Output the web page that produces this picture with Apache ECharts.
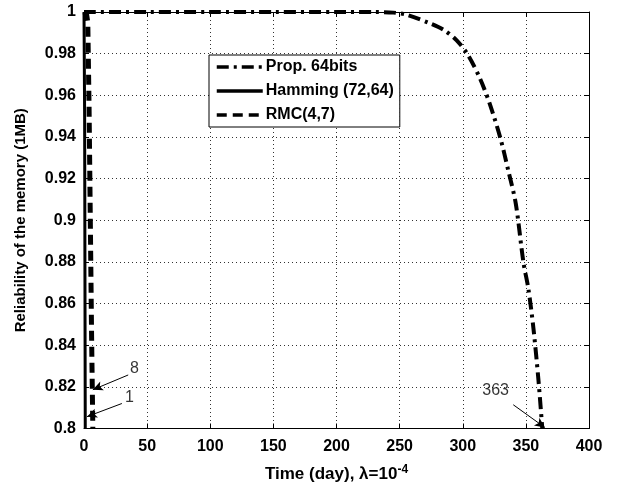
<!DOCTYPE html>
<html>
<head>
<meta charset="utf-8">
<script src="https://cdn.jsdelivr.net/npm/echarts@6/dist/echarts.min.js"></script>
<style>
  html, body { margin: 0; padding: 0; background: #fff; }
  #chart { width: 620px; height: 488px; }
</style>
</head>
<body>
<div id="chart"></div>
<script>
// reliability vs time
const propDays = [0, 50, 100, 150, 200, 230, 245, 256, 273, 285, 295, 304, 314, 322, 330, 336, 342, 348, 352, 356, 360, 363]
const propRel = [1, 1, 1, 1, 1, 1, 0.9997, 0.9986, 0.9948, 0.9914, 0.9865, 0.9795, 0.9676, 0.9548, 0.939, 0.924, 0.908, 0.88, 0.867, 0.848, 0.823, 0.8]

const hammingDays = [0, 0.5, 1]
const hammingRel = [1, 0.95, 0.8]

const rmcDays = [0, 2, 3, 4, 5, 6, 7]
const rmcRel = [1, 0.999, 0.995, 0.955, 0.9, 0.845, 0.8]

const xTicks = { min: 0, max: 400, step: 50 }
const yTicks = { min: 0.8, max: 1, step: 0.02 }

// annotations: label, text position, arrow start, arrow tip
const annoLabels = ['8', '1', '363']
const annoText = [[40, 0.8288], [36, 0.8148], [326, 0.8182]]
const arrowFrom = [[35, 0.8257], [30, 0.812], [340, 0.8114]]
const arrowTo = [[7, 0.8186], [2.4, 0.8057], [365, 0.8005]]

const FONT = 'Liberation Sans'
const zip = (a, b) => a.map((v, i) => [v, b[i]])

const chart = echarts.init(document.getElementById('chart'))

const tickLabel = { color: '#000', fontFamily: FONT, fontWeight: 'bold', fontSize: 16 }
const frameAxis = {
  axisLine: { show: true, onZero: false, lineStyle: { color: '#000', width: 1 } },
  axisTick: { show: true, inside: true, length: 5, lineStyle: { color: '#000' } },
}

chart.setOption({
  animation: false,
  grid: { left: 84, right: 31, top: 12, bottom: 56 },
  legend: {
    data: ['Prop. 64bits', 'Hamming (72,64)', 'RMC(4,7)'],
    orient: 'vertical',
    left: 209,
    top: 55,
    backgroundColor: '#fff',
    borderColor: '#000',
    borderWidth: 1,
    borderRadius: 0,
    padding: [4, 6, 4, 6],
    itemGap: 8,
    itemWidth: 46,
    itemHeight: 14,
    itemStyle: { opacity: 0 },
    lineStyle: { width: 3.5 },
    textStyle: { color: '#000', fontFamily: FONT, fontWeight: 'bold', fontSize: 16, padding: [0, 0, 0, -2] },
  },
  xAxis: [{
    type: 'value',
    min: xTicks.min, max: xTicks.max, interval: xTicks.step,
    ...frameAxis,
    axisLabel: { ...tickLabel, margin: 10 },
    splitLine: { show: true, lineStyle: { color: '#333', type: [1, 3], width: 1 } },
    name: 'Time (day), λ=10{sup|-4}',
    nameLocation: 'middle',
    nameGap: 35,
    nameTextStyle: {
      ...tickLabel, fontSize: 17,
      rich: { sup: { fontFamily: FONT, fontWeight: 'bold', fontSize: 12, padding: [0, 0, 10, 0], color: '#000' } },
    },
  }, {
    type: 'value', position: 'top',
    min: xTicks.min, max: xTicks.max, interval: xTicks.step,
    ...frameAxis,
    axisLabel: { show: false },
    splitLine: { show: false },
  }],
  yAxis: [{
    type: 'value',
    min: yTicks.min, max: yTicks.max, interval: yTicks.step,
    ...frameAxis,
    axisLabel: { ...tickLabel, margin: 8, formatter: v => String(+v.toFixed(2)) },
    splitLine: { show: true, lineStyle: { color: '#333', type: [1, 3], width: 1 } },
    name: 'Reliability of the memory (1MB)',
    nameLocation: 'middle',
    nameGap: 56,
    nameTextStyle: { ...tickLabel, fontSize: 15 },
  }, {
    type: 'value', position: 'right',
    min: yTicks.min, max: yTicks.max, interval: yTicks.step,
    ...frameAxis,
    axisLabel: { show: false },
    splitLine: { show: false },
  }],
  series: [
    {
      name: 'Prop. 64bits', type: 'line', symbol: 'none', clip: false, smooth: 0.3,
      data: zip(propDays, propRel),
      lineStyle: { color: '#000', width: 4, type: [12, 5, 3, 5] },
      itemStyle: { color: '#000' },
      z: 5,
    },
    {
      name: 'Hamming (72,64)', type: 'line', symbol: 'none', clip: false,
      data: zip(hammingDays, hammingRel),
      lineStyle: { color: '#000', width: 3 },
      itemStyle: { color: '#000' },
      z: 6,
    },
    {
      name: 'RMC(4,7)', type: 'line', symbol: 'none', clip: false,
      data: zip(rmcDays, rmcRel),
      lineStyle: { color: '#000', width: 5, type: [10, 6] },
      itemStyle: { color: '#000' },
      z: 6,
    },
    {
      name: 'notes', type: 'scatter', symbolSize: 0, silent: true,
      data: annoLabels.map((t, i) => ({ name: t, value: annoText[i] })),
      label: {
        show: true, position: 'inside', formatter: p => p.name,
        color: '#000', fontFamily: FONT, fontSize: 16,
      },
      markLine: {
        silent: true,
        symbol: ['none', 'arrow'],
        symbolSize: [7, 10],
        label: { show: false },
        lineStyle: { color: '#000', width: 1, type: 'solid' },
        data: arrowFrom.map((a, i) => [{ coord: a }, { coord: arrowTo[i] }]),
      },
      z: 7,
    },
  ],
})
</script>
</body>
</html>
